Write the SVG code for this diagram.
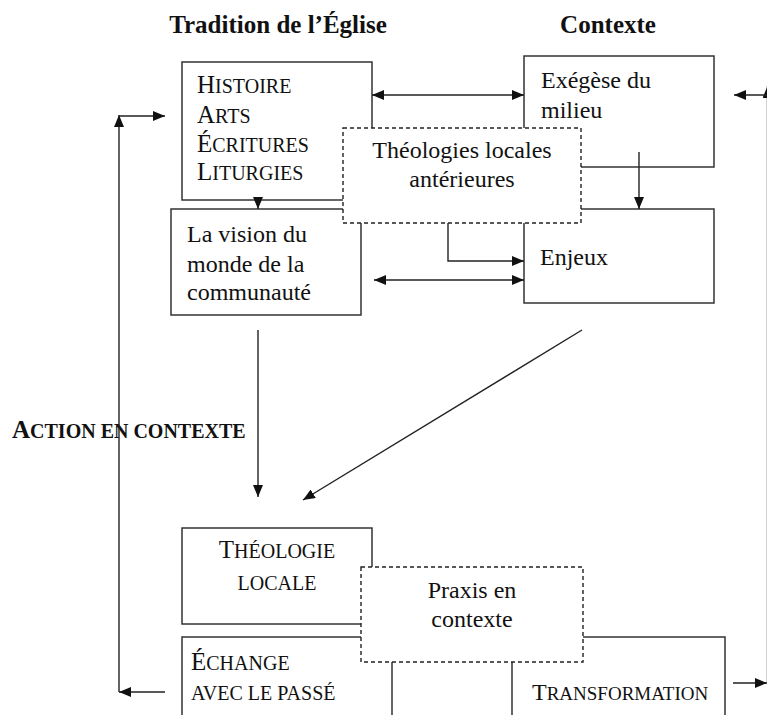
<svg xmlns="http://www.w3.org/2000/svg" width="767" height="715" viewBox="0 0 767 715">
<style>
.box{fill:#fff;stroke:#333;stroke-width:1.5}
.dash{fill:#fff;stroke:#222;stroke-width:1.4;stroke-dasharray:4 3}
.ln{fill:none;stroke:#222;stroke-width:1.4}
.t{font-family:"Liberation Serif","Times New Roman",serif;font-size:24px;fill:#111}
.h{font-family:"Liberation Serif","Times New Roman",serif;font-size:25px;font-weight:bold;fill:#111}
.big{font-size:25px}
.sm{font-size:20px}
</style>
<defs>
<marker id="ah" viewBox="0 0 12 10" refX="12" refY="5" markerWidth="12" markerHeight="10" markerUnits="userSpaceOnUse" orient="auto-start-reverse">
<path d="M0,0 L12,5 L0,10 z" fill="#111"/>
</marker>
</defs>
<rect width="767" height="715" fill="#fff"/>

<g id="headings">
<text class="h" x="278" y="33" text-anchor="middle">Tradition de l’Église</text>
<text class="h" x="608" y="33" text-anchor="middle">Contexte</text>
</g>

<g id="action-label">
<text class="h" x="12" y="438"><tspan class="big">A</tspan><tspan class="sm">CTION EN CONTEXTE</tspan></text>
</g>

<g id="tradition">
<rect class="box" x="182" y="62" width="190" height="138"/>
<text class="t" x="197" y="93"><tspan class="big">H</tspan><tspan class="sm">ISTOIRE</tspan></text>
<text class="t" x="197" y="123"><tspan class="big">A</tspan><tspan class="sm">RTS</tspan></text>
<text class="t" x="197" y="152"><tspan class="big">É</tspan><tspan class="sm">CRITURES</tspan></text>
<text class="t" x="197" y="180"><tspan class="big">L</tspan><tspan class="sm">ITURGIES</tspan></text>
</g>

<g id="exegese">
<rect class="box" x="524" y="56" width="190" height="111"/>
<text class="t" x="541" y="88">Exégèse du</text>
<text class="t" x="541" y="118">milieu</text>
</g>

<g id="vision">
<rect class="box" x="171" y="209" width="190" height="106"/>
<text class="t" x="187" y="242">La vision du</text>
<text class="t" x="187" y="272">monde de la</text>
<text class="t" x="187" y="300">communauté</text>
</g>

<g id="enjeux">
<rect class="box" x="524" y="209" width="190" height="94"/>
<text class="t" x="540" y="265">Enjeux</text>
</g>

<g id="theologies-anterieures">
<rect class="dash" x="343" y="128" width="238" height="95"/>
<text class="t" x="462" y="158" text-anchor="middle">Théologies locales</text>
<text class="t" x="462" y="187" text-anchor="middle">antérieures</text>
</g>

<g id="theologie-locale">
<rect class="box" x="182" y="528" width="190" height="96"/>
<text class="t" x="277" y="558" text-anchor="middle"><tspan class="big">T</tspan><tspan class="sm">HÉOLOGIE</tspan></text>
<text class="t" x="277" y="590" text-anchor="middle"><tspan class="sm">LOCALE</tspan></text>
</g>

<g id="echange">
<rect class="box" x="182" y="637" width="210" height="100"/>
<text class="t" x="191" y="670"><tspan class="big">É</tspan><tspan class="sm">CHANGE</tspan></text>
<text class="t" x="191" y="700"><tspan class="sm">AVEC LE PASSÉ</tspan></text>
</g>

<g id="transformation">
<rect class="box" x="512" y="637" width="213" height="100"/>
<text class="t" x="532" y="700"><tspan style="font-size:24px">T</tspan><tspan style="font-size:19px">RANSFORMATION</tspan></text>
</g>

<g id="praxis">
<rect class="dash" x="361" y="567" width="222" height="95"/>
<text class="t" x="472" y="598" text-anchor="middle">Praxis en</text>
<text class="t" x="472" y="627" text-anchor="middle">contexte</text>
</g>

<g id="connectors">
<line class="ln" x1="372" y1="95" x2="524" y2="95" marker-start="url(#ah)" marker-end="url(#ah)"/>
<line class="ln" x1="374" y1="280" x2="524" y2="280" marker-start="url(#ah)" marker-end="url(#ah)"/>
<polyline class="ln" points="448,223 448,261 524,261" marker-end="url(#ah)"/>
<line class="ln" x1="639" y1="152" x2="639" y2="209" marker-end="url(#ah)"/>
<line class="ln" x1="258" y1="200" x2="258" y2="209" marker-end="url(#ah)"/>
<line class="ln" x1="258" y1="330" x2="258" y2="497" marker-end="url(#ah)"/>
<line class="ln" x1="582" y1="330" x2="303" y2="500" marker-end="url(#ah)"/>
<line class="ln" x1="165" y1="692" x2="119" y2="692" marker-end="url(#ah)"/>
<line class="ln" x1="119" y1="692" x2="119" y2="115" marker-end="url(#ah)"/>
<line class="ln" x1="119" y1="116" x2="165" y2="116" marker-end="url(#ah)"/>
<line class="ln" x1="733" y1="683" x2="767" y2="683" marker-end="url(#ah)"/>
<line class="ln" x1="767.5" y1="683" x2="767.5" y2="86" marker-end="url(#ah)"/>
<line class="ln" x1="767" y1="95" x2="734" y2="95" marker-end="url(#ah)"/>
</g>
</svg>
